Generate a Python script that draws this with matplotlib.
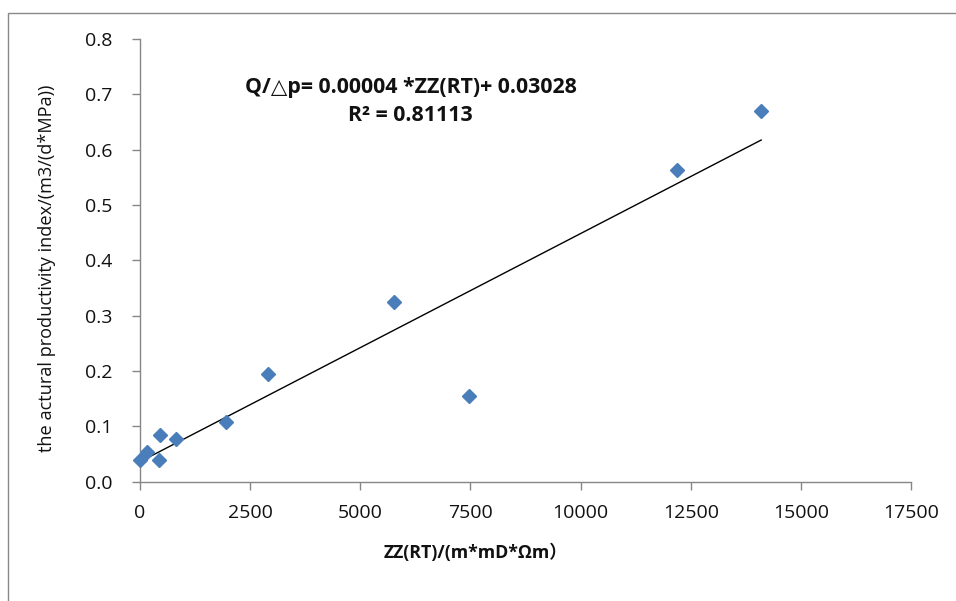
import numpy as np
import matplotlib
matplotlib.use("Agg")
import matplotlib.pyplot as plt
from matplotlib.patches import Rectangle

# data
zz_rt = [0, 150, 440, 455, 815, 1950, 2915, 5770, 7460, 12195, 14100]
prod_index = [0.039, 0.054, 0.039, 0.084, 0.077, 0.107, 0.194, 0.324, 0.154, 0.563, 0.669]
x_ticks = [0, 2500, 5000, 7500, 10000, 12500, 15000, 17500]
y_ticks = [0.0, 0.1, 0.2, 0.3, 0.4, 0.5, 0.6, 0.7, 0.8]
equation_text = "Q/\u25b3p= 0.00004 *ZZ(RT)+ 0.03028"
r2_text = "R\u00b2 = 0.81113"
x_label = "ZZ(RT)/(m*mD*\u03a9m\uff09"
y_label = "the actural productivity index/(m3/(d*MPa))"

fams = ['Open Sans', 'DejaVu Sans', 'Noto Sans CJK SC']
plt.rcParams['font.family'] = fams

fig = plt.figure(figsize=(9.56, 6.01), dpi=100)
ax = fig.add_axes([140/956, 1-481.7/601, (911-140)/956, (481.7-39)/601])

ax.plot(zz_rt, prod_index, linestyle='none', marker='D', ms=6.8,
        color='#4A7EBB', mec='#4A7EBB', zorder=3, clip_on=False)

# linear trendline fitted to the data
coef = np.polyfit(zz_rt, prod_index, 1)
xl = np.array([min(zz_rt), max(zz_rt)])
ax.plot(xl, np.polyval(coef, xl), color='black', lw=1.0, zorder=2)

ax.set_xlim(0, 17500)
ax.set_ylim(0, 0.8)
ax.set_xticks(x_ticks)
ax.set_xticklabels([str(v) for v in x_ticks])
ax.set_yticks(y_ticks)
ax.set_yticklabels([f"{v:.1f}" for v in y_ticks])

for s in ['top', 'right']:
    ax.spines[s].set_visible(False)
for s in ['left', 'bottom']:
    ax.spines[s].set_color('#868686')
    ax.spines[s].set_linewidth(1.0)
ax.tick_params(axis='both', direction='out', length=6, width=1.0,
               color='#868686', labelsize=14, labelcolor='#111111')
ax.tick_params(axis='y', pad=14)
ax.tick_params(axis='x', pad=10)

renderer = fig.canvas.get_renderer()

def fit_size(t, target_px, vertical=False):
    t.set_fontsize(12)
    bb = t.get_window_extent(renderer)
    w = bb.height if vertical else bb.width
    t.set_fontsize(12 * target_px / w)

yl_t = fig.text(47/956, 1-268/601, y_label, ha='center', va='center',
                rotation=90, family=fams, color='#111111')
fit_size(yl_t, 365, vertical=True)

eq_t = fig.text(411/956, 1-87/601, equation_text, ha='center', va='center',
                fontweight='bold', family=fams, color='#111111')
fit_size(eq_t, 332)
r2_t = fig.text(410/956, 1-115/601, r2_text, ha='center', va='center',
                fontweight='bold', family=fams, color='#111111')
r2_t.set_fontsize(eq_t.get_fontsize())

xl_t = fig.text(476/956, 1-553/601, x_label, ha='center', va='center',
                fontweight='bold', family=fams, color='#111111', fontsize=12.8)

# outer chart border (only top/left visible in the crop)
fig.patches.append(Rectangle((8/956, -0.2), 1.3, 1.2 - 13/601, transform=fig.transFigure,
                             fill=False, ec='#888888', lw=1.0))

fig.savefig('out.png', dpi=100)
